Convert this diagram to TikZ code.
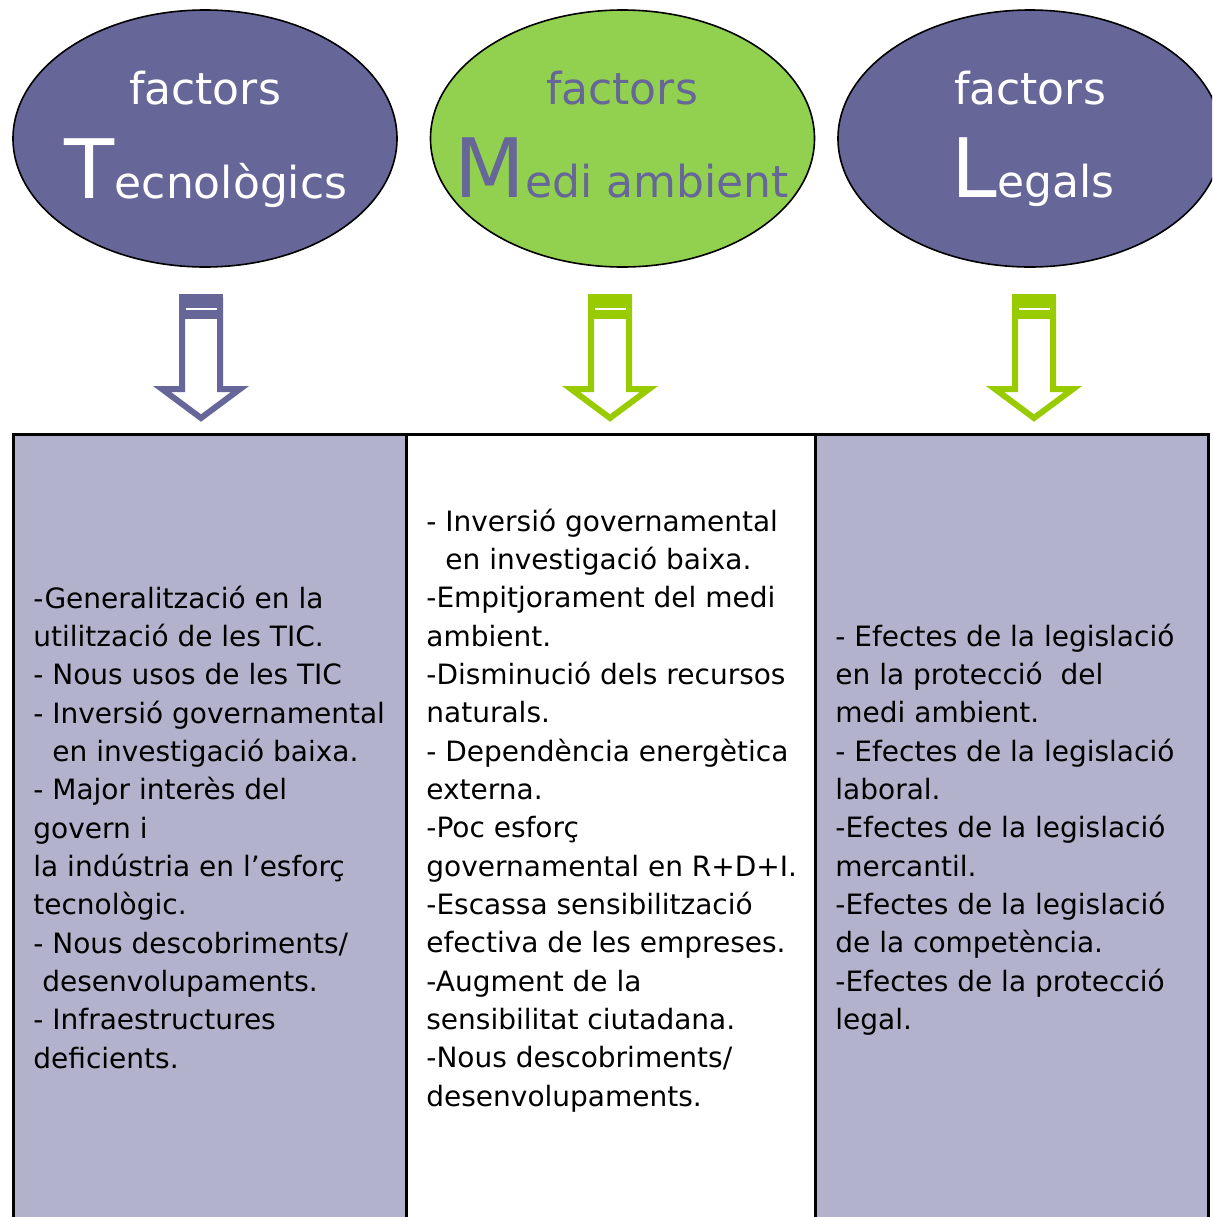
\documentclass[tikz,border=0pt]{standalone}
\usepackage{fontspec}
\setmainfont{DejaVu Sans}
\usetikzlibrary{shapes.geometric}
\definecolor{pur}{HTML}{666699}
\definecolor{grn}{HTML}{92D050}
\definecolor{agrn}{HTML}{99CC00}
\definecolor{lav}{HTML}{B2B2CC}
\newcommand\blkarrow[3]{%
  \draw[#2, line width=3pt, fill=white, miter limit=10]
    (#1-19,300) -- (#1-19,389) -- (#1-39,389) -- (#1,418) -- (#1+39,389) -- (#1+19,389) -- (#1+19,300) -- cycle;
  \node[fill=#2, inner sep=0, minimum width=22pt, minimum height=12.5pt, anchor=north] (#3) at (#1,294) {};
  \draw[white, line width=1pt] (#1-15,309) -- (#1+16,309);
}
\begin{document}
\begin{tikzpicture}[x=0.5pt,y=-0.5pt,
  oval/.style={ellipse, draw=black, line width=0.8pt, minimum width=192pt, minimum height=128.5pt, inner sep=0},
  col/.style={draw=black, line width=1.5pt, minimum height=400pt, inner sep=0, outer sep=0, anchor=north west},
  body/.style={anchor=base west, inner sep=0, font=\fontsize{14}{19}\selectfont, text=black},
  small/.style={anchor=base, inner sep=0, font=\fontsize{22}{22}\selectfont}]
\clip (0,0) rectangle (1212,1217);
\fill[white] (0,0) rectangle (1212,1217);
% ellipses
\node[oval, fill=pur] (e1) at (205,138.5) {};
\node[oval, fill=grn] (e2) at (622.5,138.5) {};
\node[oval, fill=pur] (e3) at (1030,138.5) {};
\node[small, text=white] (f1) at (205,104) {factors};
\node[small, text=white] (t1) at (206,198) {{\fontsize{41}{41}\selectfont T}ecnològics};
\node[small, text=pur] (f2) at (622,104) {factors};
\node[small, text=pur] (t2) at (622,197) {{\fontsize{41}{41}\selectfont M}edi ambient};
\node[small, text=white] (f3) at (1030,104) {factors};
\node[small, text=white] (t3) at (1033,197) {{\fontsize{41}{41}\selectfont L}egals};
% arrows
\blkarrow{201}{pur}{ar1}
\blkarrow{610}{agrn}{ar2}
\blkarrow{1034}{agrn}{ar3}
% columns
\node[col, fill=lav, minimum width=196.5pt] (c1) at (13,434) {};
\node[col, fill=white, minimum width=204.5pt] (c2) at (406,434) {};
\node[col, fill=lav, minimum width=196.5pt] (c3) at (815,434) {};
% column 1 text
\foreach \t [count=\i] in {-Generalització en la, utilització de les TIC., - Nous usos de les TIC, - Inversió governamental, \phantom{-}\ en investigació baixa., - Major interès del, govern i, la indústria en l’esforç, tecnològic., - Nous descobriments/, \hspace{4.5pt}desenvolupaments., - Infraestructures, deficients.}
  \node[body] (a\i) at (33,{608+38.35*(\i-1)}) {\t};
% column 2 text
\foreach \t [count=\i] in {- Inversió governamental, \phantom{-}\ en investigació baixa., -Empitjorament del medi, ambient., -Disminució dels recursos, naturals., - Dependència energètica, externa., -Poc esforç, governamental en R+D+I., -Escassa sensibilització, efectiva de les empreses., -Augment de la, sensibilitat ciutadana., -Nous descobriments/, desenvolupaments.}
  \node[body] (b\i) at (426,{531+38.35*(\i-1)}) {\t};
% column 3 text
\foreach \t [count=\i] in {- Efectes de la legislació, en la protecció\ \ del, medi ambient., - Efectes de la legislació, laboral., -Efectes de la legislació, mercantil., -Efectes de la legislació, de la competència., -Efectes de la protecció, legal.}
  \node[body] (d\i) at (835,{646+38.35*(\i-1)}) {\t};
\end{tikzpicture}
\end{document}
